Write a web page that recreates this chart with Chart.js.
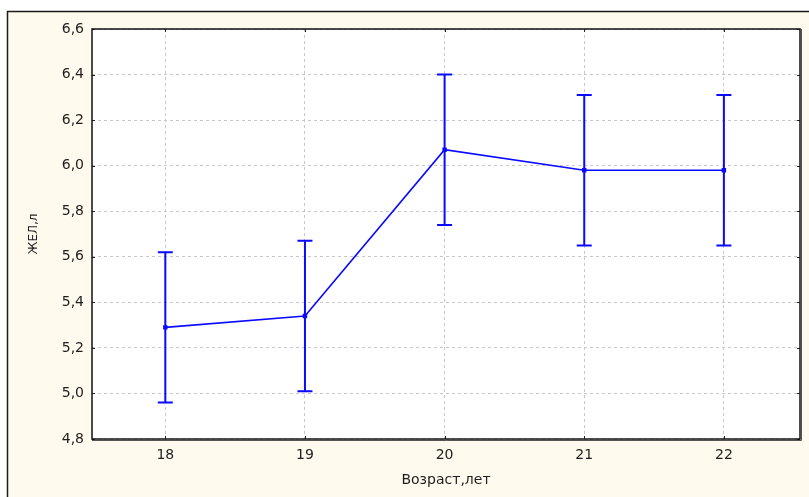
<!DOCTYPE html>
<html>
<head>
<meta charset="utf-8">
<title>ЖЕЛ по возрасту</title>
<script src="https://cdn.jsdelivr.net/npm/chart.js@4.4.1/dist/chart.umd.min.js"></script>
<style>
  html, body { margin: 0; padding: 0; background: #ffffff; }
  canvas { display: block; }
</style>
</head>
<body>
<canvas id="chart" width="809" height="497"></canvas>
<script>
// Age groups (years) and vital capacity (litres): mean with interval bounds
const ages = [18, 19, 20, 21, 22];
const meanVital = [5.29, 5.34, 6.07, 5.98, 5.98];
const upperBound = [5.62, 5.67, 6.40, 6.31, 6.31];
const lowerBound = [4.96, 5.01, 5.74, 5.65, 5.65];
const yTicks = [4.8, 5.0, 5.2, 5.4, 5.6, 5.8, 6.0, 6.2, 6.4, 6.6];

const LINE_BLUE = '#0a0aff';
const TEXT = '#1e1e1e';
const FONT = "'DejaVu Sans', Verdana, sans-serif";

// Cream panel, white plot area, outer frame
const framePlugin = {
  id: 'frame',
  beforeDraw(chart) {
    const { ctx, chartArea: a, width, height } = chart;
    ctx.save();
    ctx.fillStyle = '#fff9ee';
    ctx.fillRect(7, 11, width - 7, height - 11);
    ctx.strokeStyle = '#1a1a1a';
    ctx.lineWidth = 1.5;
    ctx.beginPath();
    ctx.moveTo(7.5, height);
    ctx.lineTo(7.5, 11.5);
    ctx.lineTo(width, 11.5);
    ctx.stroke();
    ctx.fillStyle = '#ffffff';
    ctx.fillRect(a.left, a.top, a.right - a.left, a.bottom - a.top);
    ctx.restore();
  },
  afterDraw(chart) {
    const { ctx, chartArea: a, scales } = chart;
    ctx.save();
    // inward tick marks
    ctx.strokeStyle = '#222';
    ctx.lineWidth = 1;
    ctx.beginPath();
    ages.forEach(v => {
      const x = Math.round(scales.x.getPixelForValue(v)) + 0.5;
      ctx.moveTo(x, a.bottom); ctx.lineTo(x, a.bottom - 3);
      ctx.moveTo(x, a.top); ctx.lineTo(x, a.top + 3);
    });
    yTicks.forEach(v => {
      const y = Math.round(scales.y.getPixelForValue(v)) + 0.5;
      ctx.moveTo(a.left, y); ctx.lineTo(a.left + 3, y);
      ctx.moveTo(a.right, y); ctx.lineTo(a.right - 3, y);
    });
    ctx.stroke();
    // plot frame
    ctx.strokeStyle = '#111';
    ctx.lineWidth = 1.5;
    ctx.strokeRect(a.left, a.top, a.right - a.left, a.bottom - a.top);
    ctx.strokeStyle = '#555';
    ctx.lineWidth = 1;
    ctx.beginPath();
    ctx.moveTo(a.right + 1.5, a.top);
    ctx.lineTo(a.right + 1.5, a.bottom + 1.5);
    ctx.lineTo(a.left, a.bottom + 1.5);
    ctx.stroke();
    ctx.restore();
  }
};

// Interval whiskers with caps
const errorBarPlugin = {
  id: 'errorBars',
  afterDatasetsDraw(chart) {
    const { ctx, scales } = chart;
    ctx.save();
    ctx.strokeStyle = LINE_BLUE;
    ctx.lineWidth = 2;
    ages.forEach((age, i) => {
      const x = scales.x.getPixelForValue(age);
      const yTop = scales.y.getPixelForValue(upperBound[i]);
      const yBot = scales.y.getPixelForValue(lowerBound[i]);
      ctx.beginPath();
      ctx.moveTo(x, yTop); ctx.lineTo(x, yBot);
      ctx.moveTo(x - 7.5, yTop); ctx.lineTo(x + 7.5, yTop);
      ctx.moveTo(x - 7.5, yBot); ctx.lineTo(x + 7.5, yBot);
      ctx.stroke();
    });
    ctx.restore();
  }
};

new Chart(document.getElementById('chart'), {
  type: 'line',
  data: {
    datasets: [{
      data: ages.map((a, i) => ({ x: a, y: meanVital[i] })),
      borderColor: LINE_BLUE,
      backgroundColor: LINE_BLUE,
      borderWidth: 1.6,
      pointStyle: 'rect',
      pointRadius: 2,
      tension: 0,
      fill: false
    }]
  },
  options: {
    responsive: false,
    animation: false,
    events: [],
    layout: { padding: { left: 0, top: 29, right: 9, bottom: 0 } },
    plugins: { legend: { display: false }, tooltip: { enabled: false } },
    scales: {
      x: {
        type: 'linear',
        min: 17.475,
        max: 22.545,
        afterBuildTicks(scale) { scale.ticks = ages.map(v => ({ value: v })); },
        afterFit(scale) { scale.height = 58; },
        grid: { color: '#c8c8c8', lineWidth: 1, drawTicks: false },
        border: { display: false, dash: [3, 3] },
        ticks: {
          padding: 8,
          color: TEXT,
          font: { family: FONT, size: 14 },
          callback: v => String(v)
        },
        title: {
          display: true,
          text: 'Возраст,лет',
          color: TEXT,
          font: { family: FONT, size: 14 },
          padding: { top: 0, bottom: 8 }
        }
      },
      y: {
        min: 4.8,
        max: 6.6,
        afterBuildTicks(scale) { scale.ticks = yTicks.map(v => ({ value: v })); },
        afterFit(scale) { scale.width = 92; },
        grid: { color: '#c8c8c8', lineWidth: 1, drawTicks: false },
        border: { display: false, dash: [3, 3] },
        ticks: {
          padding: 8,
          color: TEXT,
          font: { family: FONT, size: 14 },
          callback: v => v.toFixed(1).replace('.', ',')
        },
        title: {
          display: true,
          text: 'ЖЕЛ,л',
          color: TEXT,
          font: { family: FONT, size: 12 },
          padding: { top: 27, bottom: 0 }
        }
      }
    }
  },
  plugins: [framePlugin, errorBarPlugin]
});
</script>
</body>
</html>
